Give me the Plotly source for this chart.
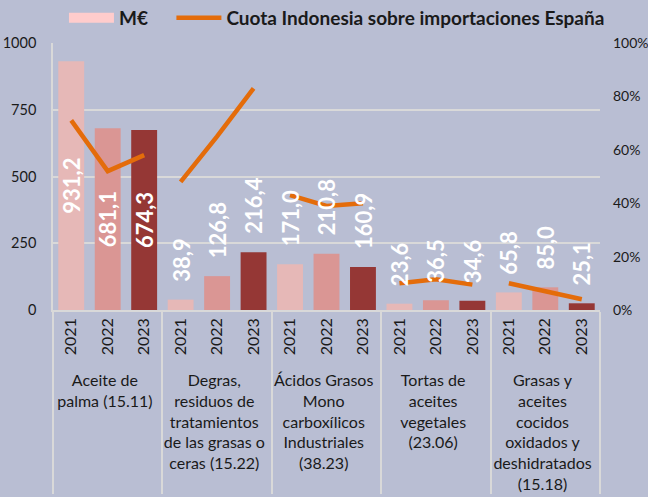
import plotly.graph_objects as go

groups = [
    "Aceite de<br>palma (15.11)",
    "Degras,<br>residuos de<br>tratamientos<br>de las grasas o<br>ceras (15.22)",
    "Ácidos Grasos<br>Mono<br>carboxílicos<br>Industriales<br>(38.23)",
    "Tortas de<br>aceites<br>vegetales<br>(23.06)",
    "Grasas y<br>aceites<br>cocidos<br>oxidados y<br>deshidratados<br>(15.18)",
]
years = ["2021", "2022", "2023"]

# M€ per group, per year
meur = [
    [931.2, 681.1, 674.3],
    [38.9, 126.8, 216.4],
    [171.0, 210.8, 160.9],
    [23.6, 36.5, 34.6],
    [65.8, 85.0, 25.1],
]
# Share of Indonesia in Spanish imports
cuota = [
    [0.71, 0.52, 0.58],
    [0.48, 0.65, 0.83],
    [0.43, 0.39, 0.40],
    [0.10, 0.115, 0.095],
    [0.10, 0.07, 0.04],
]

year_colors = ["#E6B8B7", "#DA9694", "#953735"]
BG = "#B9BED3"
GRID = "#D9D9D9"
FONT = "Lato"
LABEL_FONT = dict(family=FONT, size=22, color="white", weight="bold")

xs_g, xs_y, ys, cols, txt, pos = [], [], [], [], [], []
annotations = []
for gi, g in enumerate(groups):
    for yi, y in enumerate(years):
        v = meur[gi][yi]
        xs_g.append(g)
        xs_y.append(y)
        ys.append(v)
        cols.append(year_colors[yi])
        s = f"{v:.1f}".replace(".", ",")
        if v > 400:
            txt.append(s)
            pos.append("inside")
        else:
            txt.append("")
            pos.append("none")
            annotations.append(dict(
                x=gi * 3 + yi, y=v, xref="x", yref="y", text=s,
                textangle=-90, showarrow=False, yanchor="bottom",
                xanchor="center", yshift=16, font=LABEL_FONT,
            ))

fig = go.Figure()

fig.add_trace(go.Bar(
    x=[xs_g, xs_y], y=ys,
    marker=dict(color=cols, line=dict(width=0)),
    text=txt, textposition=pos, textangle=-90,
    insidetextanchor="middle", constraintext="none",
    textfont=LABEL_FONT,
    showlegend=False, hoverinfo="skip",
))

# legend-only entry for the bars (wide swatch)
fig.add_trace(go.Scatter(
    x=[None], y=[None], name="M€\u00a0\u00a0\u00a0\u00a0", mode="lines",
    line=dict(color="#FFCCCC", width=10), showlegend=True, hoverinfo="skip",
))

for gi, g in enumerate(groups):
    fig.add_trace(go.Scatter(
        x=[[g] * 3, years], y=cuota[gi], yaxis="y2",
        mode="lines", line=dict(color="#E46C0A", width=4.5),
        name="Cuota Indonesia sobre importaciones España",
        legendgroup="cuota", showlegend=(gi == 0), hoverinfo="skip",
    ))

fig.update_layout(
    width=648, height=497,
    margin=dict(l=53, r=48, t=43, b=187, autoexpand=False),
    paper_bgcolor=BG, plot_bgcolor=BG,
    font=dict(family=FONT, color="#1A1A1A"),
    bargap=0.29,
    barmode="overlay",
    annotations=annotations,
    legend=dict(orientation="h", xref="container", yref="container",
                x=0.52, xanchor="center", y=1 - 18 / 497, yanchor="middle",
                font=dict(size=19, weight="bold", color="#1A1A1A"),
                bgcolor="rgba(0,0,0,0)", itemwidth=45),
    xaxis=dict(
        type="multicategory", showline=True, linecolor=GRID, linewidth=1.5,
        showdividers=True, dividercolor=GRID, dividerwidth=1.5,
        tickangle=-90, tickfont=dict(size=16, color="#1A1A1A"),
        showgrid=False, ticks="", automargin=False,
    ),
    yaxis=dict(
        range=[0, 1000], tickvals=[0, 250, 500, 750, 1000],
        showline=True, linecolor=GRID, linewidth=1.5,
        gridcolor=GRID, gridwidth=1.5, zeroline=False,
        tickfont=dict(size=14.5, color="#1A1A1A"), ticklabelstandoff=12,
        automargin=False,
    ),
    yaxis2=dict(
        overlaying="y", side="right", range=[0, 1],
        tickvals=[0, 0.2, 0.4, 0.6, 0.8, 1.0], tickformat=".0%",
        showgrid=False, zeroline=False, showline=False,
        tickfont=dict(size=14, color="#1A1A1A"), ticklabelstandoff=12,
        automargin=False,
    ),
)

fig.write_html(
    "out.html",
    config={"displayModeBar": False},
    post_script="document.body.style.margin='0';document.body.style.overflow='hidden';",
)
